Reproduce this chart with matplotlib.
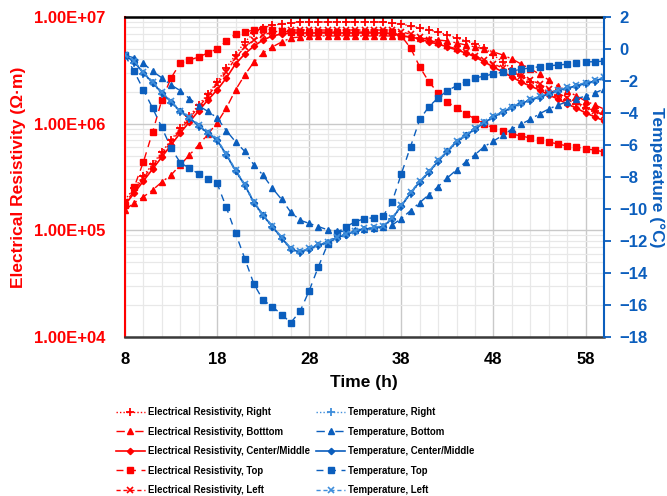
import matplotlib
matplotlib.use('Agg')
import matplotlib.pyplot as plt
from matplotlib.ticker import FixedLocator, LogLocator, NullFormatter, MultipleLocator

plt.rcParams['font.family'] = ['Liberation Sans', 'DejaVu Sans']
plt.rcParams['font.weight'] = 'bold'

# ---------------- data ----------------
time_h = list(range(8, 61))

res_right = [1.93e5, 2.50e5, 3.24e5, 4.19e5, 5.43e5, 7.03e5, 9.12e5, 1.18e6, 1.50e6, 1.90e6,
             2.46e6, 3.33e6, 4.41e6, 5.83e6, 7.08e6, 7.89e6, 8.41e6, 8.59e6, 8.79e6, 8.98e6,
             8.98e6, 8.98e6, 8.98e6, 8.98e6, 8.98e6, 8.98e6, 8.98e6, 8.98e6, 8.98e6, 8.79e6,
             8.59e6, 8.24e6, 7.89e6, 7.55e6, 7.23e6, 6.78e6, 6.36e6, 5.96e6, 5.58e6, 5.12e6,
             4.41e6, 3.79e6, 3.26e6, 2.80e6, 2.46e6, 2.21e6, 1.98e6, 1.82e6, 1.67e6, 1.53e6,
             1.40e6, 1.32e6, 1.23e6]
res_bottom = [1.55e5, 1.81e5, 2.06e5, 2.39e5, 2.84e5, 3.30e5, 4.10e5, 5.09e5, 6.31e5, 7.99e5,
              1.02e6, 1.40e6, 2.07e6, 2.86e6, 3.79e6, 4.60e6, 5.24e6, 5.83e6, 6.36e6, 6.50e6,
              6.64e6, 6.64e6, 6.64e6, 6.64e6, 6.64e6, 6.64e6, 6.64e6, 6.64e6, 6.64e6, 6.64e6,
              6.64e6, 6.50e6, 6.36e6, 6.22e6, 6.09e6, 5.96e6, 5.71e6, 5.47e6, 5.24e6, 5.01e6,
              4.70e6, 4.41e6, 4.04e6, 3.63e6, 3.26e6, 2.92e6, 2.57e6, 2.25e6, 2.03e6, 1.82e6,
              1.63e6, 1.50e6, 1.37e6]
res_center = [1.73e5, 2.24e5, 2.90e5, 3.76e5, 4.87e5, 6.31e5, 8.18e5, 1.04e6, 1.32e6, 1.67e6,
              2.07e6, 2.68e6, 3.63e6, 4.50e6, 5.35e6, 6.09e6, 6.64e6, 6.93e6, 7.08e6, 7.08e6,
              7.08e6, 7.08e6, 7.08e6, 7.08e6, 7.08e6, 7.08e6, 7.08e6, 7.08e6, 7.08e6, 6.93e6,
              6.64e6, 6.50e6, 6.22e6, 5.83e6, 5.58e6, 5.24e6, 4.91e6, 4.60e6, 4.22e6, 3.79e6,
              3.40e6, 3.05e6, 2.74e6, 2.46e6, 2.25e6, 2.07e6, 1.86e6, 1.70e6, 1.53e6, 1.40e6,
              1.26e6, 1.16e6, 1.06e6]
res_top = [1.73e5, 2.55e5, 4.38e5, 8.36e5, 1.67e6, 2.68e6, 3.70e6, 3.95e6, 4.22e6, 4.60e6,
           5.01e6, 5.96e6, 6.93e6, 7.23e6, 7.55e6, 7.72e6, 7.55e6, 7.39e6, 7.23e6, 7.23e6,
           7.23e6, 7.23e6, 7.23e6, 7.23e6, 7.23e6, 7.23e6, 7.23e6, 7.23e6, 7.23e6, 7.23e6,
           6.64e6, 5.12e6, 3.40e6, 2.46e6, 1.94e6, 1.60e6, 1.40e6, 1.23e6, 1.11e6, 9.94e5,
           9.12e5, 8.55e5, 8.00e5, 7.67e5, 7.34e5, 7.03e5, 6.73e5, 6.45e5, 6.18e5, 6.05e5,
           5.79e5, 5.67e5, 5.43e5]
res_left = [1.81e5, 2.34e5, 3.10e5, 4.02e5, 5.20e5, 6.74e5, 8.73e5, 1.13e6, 1.43e6, 1.82e6,
            2.36e6, 3.05e6, 4.13e6, 5.24e6, 6.09e6, 6.78e6, 7.23e6, 7.39e6, 7.55e6, 7.55e6,
            7.55e6, 7.55e6, 7.55e6, 7.55e6, 7.55e6, 7.55e6, 7.55e6, 7.55e6, 7.55e6, 7.55e6,
            7.23e6, 6.93e6, 6.50e6, 6.09e6, 5.71e6, 5.35e6, 5.01e6, 4.70e6, 4.31e6, 3.95e6,
            3.63e6, 3.33e6, 3.05e6, 2.80e6, 2.57e6, 2.36e6, 2.11e6, 1.94e6, 1.74e6, 1.60e6,
            1.43e6, 1.32e6, 1.18e6]

temp_right = [-0.45, -0.85, -1.55, -2.15, -2.8, -3.35, -3.95, -4.35, -4.85, -5.3,
              -5.75, -6.65, -7.65, -8.55, -9.65, -10.45, -11.15, -11.85, -12.55, -12.75,
              -12.55, -12.3, -12.15, -11.85, -11.65, -11.45, -11.3, -11.25, -11.15, -10.65,
              -9.85, -9.05, -8.35, -7.75, -7.05, -6.45, -5.85, -5.45, -5.05, -4.65,
              -4.3, -4.0, -3.7, -3.45, -3.25, -3.05, -2.85, -2.65, -2.5, -2.35,
              -2.2, -2.05, -1.85]
temp_bottom = [-0.4, -0.55, -0.9, -1.4, -1.8, -2.25, -2.6, -3.1, -3.55, -3.9,
               -4.3, -5.1, -5.8, -6.4, -7.25, -7.9, -8.7, -9.4, -10.2, -10.7,
               -10.9, -11.1, -11.3, -11.4, -11.4, -11.3, -11.25, -11.2, -11.1, -11.0,
               -10.6, -10.1, -9.6, -9.1, -8.6, -8.05, -7.55, -7.05, -6.6, -6.1,
               -5.75, -5.4, -5.0, -4.7, -4.4, -4.05, -3.75, -3.5, -3.3, -3.1,
               -2.95, -2.75, -2.5]
temp_center = [-0.4, -0.8, -1.5, -2.1, -2.75, -3.3, -3.9, -4.3, -4.8, -5.25,
               -5.7, -6.6, -7.6, -8.5, -9.6, -10.4, -11.1, -11.8, -12.5, -12.7,
               -12.5, -12.25, -12.1, -11.8, -11.6, -11.4, -11.25, -11.2, -11.1, -10.6,
               -9.8, -9.0, -8.3, -7.7, -7.0, -6.4, -5.8, -5.4, -5.0, -4.6,
               -4.25, -3.95, -3.65, -3.4, -3.2, -3.0, -2.8, -2.6, -2.45, -2.3,
               -2.15, -2.0, -1.8]
temp_top = [-0.4, -1.4, -2.55, -3.7, -4.9, -6.2, -7.1, -7.45, -7.8, -8.1,
            -8.4, -9.9, -11.5, -13.1, -14.7, -15.7, -16.1, -16.6, -17.1, -16.4,
            -15.1, -13.6, -12.2, -11.5, -11.1, -10.8, -10.6, -10.55, -10.45, -9.55,
            -7.8, -6.1, -4.4, -3.6, -3.05, -2.6, -2.3, -2.05, -1.8, -1.7,
            -1.55, -1.45, -1.4, -1.25, -1.2, -1.1, -1.05, -1.0, -0.95, -0.9,
            -0.8, -0.8, -0.75]
temp_left = [-0.35, -0.75, -1.45, -2.05, -2.7, -3.25, -3.85, -4.25, -4.75, -5.2,
             -5.65, -6.55, -7.55, -8.45, -9.55, -10.35, -11.05, -11.75, -12.45, -12.65,
             -12.45, -12.2, -12.05, -11.75, -11.55, -11.35, -11.2, -11.15, -11.05, -10.55,
             -9.75, -8.95, -8.25, -7.65, -6.95, -6.35, -5.75, -5.35, -4.95, -4.55,
             -4.2, -3.9, -3.6, -3.35, -3.15, -2.95, -2.75, -2.55, -2.4, -2.25,
             -2.1, -1.95, -1.75]

res_ticks = [1e4, 1e5, 1e6, 1e7]
res_tick_labels = ['1.00E+04', '1.00E+05', '1.00E+06', '1.00E+07']
time_ticks = [8, 18, 28, 38, 48, 58]
temp_ticks = list(range(-18, 3, 2))

# ---------------- figure ----------------
RED = '#FF0000'
BLUE = '#0B5EBD'
LBLUE = '#3F8EDB'

fig = plt.figure(figsize=(6.67, 4.96), dpi=100)
ax = fig.add_axes([125/667, 1-337/496, 479/667, 320/496])
ax2 = ax.twinx()

lw = 1.0
h = []
h += ax.plot(time_h, res_right, color=RED, lw=lw, ls=(0, (1, 1.5)), marker='+', ms=6, mew=1.3,
             label='Electrical Resistivity, Right')
h += ax.plot(time_h, res_bottom, color=RED, lw=lw, ls=(0, (6, 3, 1.5, 3)), marker='^', ms=4.5,
             label='Electrical Resistivity, Botttom')
h += ax.plot(time_h, res_center, color=RED, lw=1.2, ls='-', marker='D', ms=3.2,
             label='Electrical Resistivity, Center/Middle')
h += ax.plot(time_h, res_top, color=RED, lw=lw, ls=(0, (5, 4)), marker='s', ms=3.8,
             label='Electrical Resistivity, Top')
h += ax.plot(time_h, res_left, color=RED, lw=lw, ls=(0, (3, 2)), marker='x', ms=4.5, mew=1.2,
             label='Electrical Resistivity, Left')

h += ax2.plot(time_h, temp_right, color=LBLUE, lw=lw, ls=(0, (1, 1.5)), marker='+', ms=6, mew=1.3,
              label='Temperature, Right')
h += ax2.plot(time_h, temp_bottom, color=BLUE, lw=lw, ls=(0, (6, 3, 1.5, 3)), marker='^', ms=4.5,
              label='Temperature, Bottom')
h += ax2.plot(time_h, temp_center, color=BLUE, lw=1.2, ls='-', marker='D', ms=3.2,
              label='Temperature, Center/Middle')
h += ax2.plot(time_h, temp_top, color=BLUE, lw=lw, ls=(0, (5, 4)), marker='s', ms=3.8,
              label='Temperature, Top')
h += ax2.plot(time_h, temp_left, color=LBLUE, lw=lw, ls=(0, (3, 2)), marker='x', ms=4.5, mew=1.2,
              label='Temperature, Left')

# axes limits / scales
ax.set_xlim(8, 60)
ax.set_yscale('log')
ax.set_ylim(1e4, 1e7)
ax2.set_ylim(-18, 2)

ax.xaxis.set_major_locator(FixedLocator(time_ticks))
ax.xaxis.set_minor_locator(MultipleLocator(2))
ax.yaxis.set_major_locator(FixedLocator(res_ticks))
ax.set_yticklabels(res_tick_labels)
ax.yaxis.set_minor_locator(LogLocator(base=10, subs=range(2, 10)))
ax.yaxis.set_minor_formatter(NullFormatter())
ax2.yaxis.set_major_locator(FixedLocator(temp_ticks))

ax.grid(True, which='major', color='#C9C9C9', lw=1.0)
ax.grid(True, which='minor', color='#E8E8E8', lw=0.9)
ax.set_axisbelow(True)

ax.tick_params(axis='y', which='both', length=0, pad=14, labelsize=12, labelcolor=RED)
ax.tick_params(axis='x', which='both', length=0, pad=11, labelsize=12, labelcolor='black')
ax2.tick_params(axis='y', which='major', length=5, width=1.3, direction='out', color=BLUE,
                pad=6, labelsize=12, labelcolor=BLUE)
for lab in ax.get_xticklabels() + ax.get_yticklabels() + ax2.get_yticklabels():
    lab.set_fontweight('bold')

for s in ['left', 'top', 'bottom']:
    ax2.spines[s].set_visible(False)
ax.spines['right'].set_visible(False)
ax.spines['left'].set_color(RED)
ax.spines['left'].set_linewidth(1.5)
ax.spines['top'].set_color('black')
ax.spines['top'].set_linewidth(1.8)
ax.spines['bottom'].set_color('#3A3A3A')
ax.spines['bottom'].set_linewidth(1.8)
ax2.spines['right'].set_color(BLUE)
ax2.spines['right'].set_linewidth(1.5)

fig.text(19/667, 1-177/496, 'Electrical Resistivity (Ω·m)', rotation=90, ha='center', va='center',
         color=RED, fontsize=12.5, fontweight='bold')
fig.text(657/667, 1-177/496, 'Temperature (°C)', rotation=270, ha='center', va='center',
         color=BLUE, fontsize=12.5, fontweight='bold')
fig.text(364/667, 1-383/496, 'Time (h)', ha='center', va='center', color='black',
         fontsize=12.5, fontweight='bold')

leg = fig.legend(handles=h, ncol=2, loc='upper left', bbox_to_anchor=(116/667, 1-407/496),
                 frameon=False, handlelength=3.0, handletextpad=0.3,
                 labelspacing=1.0, columnspacing=0.7, borderpad=0, borderaxespad=0,
                 prop={'weight': 'bold', 'size': 6.9})

fig.savefig('out.png', dpi=100)
